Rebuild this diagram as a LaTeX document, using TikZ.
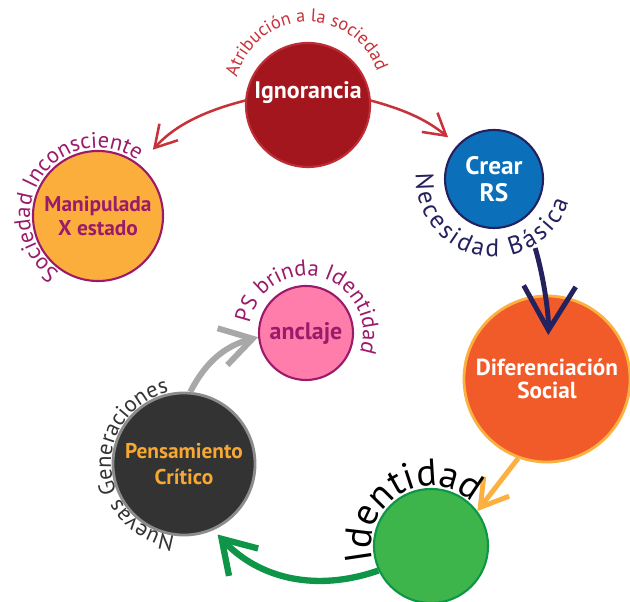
\documentclass[tikz,border=0pt]{standalone}
\usepackage{fontspec}
\setmainfont{PT Sans}
\usetikzlibrary{arrows.meta,decorations.text}

\definecolor{ignred}{HTML}{A3161D}
\definecolor{ignedge}{HTML}{BF2E36}
\definecolor{arrred}{HTML}{C8323A}
\definecolor{plum}{HTML}{9B1B6B}
\definecolor{mango}{HTML}{FBAE3C}
\definecolor{rsblue}{HTML}{0B6FBA}
\definecolor{navyink}{HTML}{24215F}
\definecolor{tangerine}{HTML}{F15A29}
\definecolor{amber}{HTML}{FBB040}
\definecolor{leaf}{HTML}{3DB54A}
\definecolor{forest}{HTML}{0F9548}
\definecolor{coal}{HTML}{333333}
\definecolor{ash}{HTML}{8C8C8C}
\definecolor{fog}{HTML}{A8A8A8}
\definecolor{gold}{HTML}{F7A833}
\definecolor{rose}{HTML}{FF7DAB}

\newcommand{\ringfont}[2]{\color{#1}\fontsize{#2}{#2}\selectfont}

\begin{document}
\begin{tikzpicture}[x=0.025cm,y=0.025cm,
  bubble/.style={circle,draw,line width=1.5pt,inner sep=0pt,align=center,
    font=\bfseries\fontsize{15}{17}\selectfont},
  barb/.style n args={3}{line width=#1,-{Straight Barb[length=#2,width=#3]}}]
  \fill[white] (0,0) rectangle (630,602);
  \useasboundingbox (0,0) rectangle (630,602);

  % circles
  \node[bubble,fill=ignred,draw=ignedge,minimum size=3.1cm] (ign) at (308,497) {};
  \node[text=white,font=\bfseries\fontsize{17}{17}\selectfont] (ignname) at (308,509) {Ignorancia};
  \node[bubble,fill=mango,draw=plum,text=plum,minimum size=3.25cm,
    font=\bfseries\fontsize{15.2}{17}\selectfont] (man) at (98,386) {Manipulada\\X estado};
  \node[bubble,fill=rsblue,draw=navyink,text=white,minimum size=2.45cm,
    font=\bfseries\fontsize{18}{19}\selectfont] (crs) at (494,423) {Crear\\RS};
  \node[bubble,fill=tangerine,draw=amber,text=white,minimum size=4.15cm,line width=2pt,
    font=\bfseries\fontsize{16.5}{16.5}\selectfont] (dif) at (547,223) {Diferenciación\\Social};
  \node[bubble,fill=leaf,draw=forest,minimum size=2.85cm] (ide) at (431,56) {};
  \node[bubble,fill=coal,draw=ash,text=gold,minimum size=3.55cm,line width=2pt,
    font=\bfseries\fontsize{15.2}{18}\selectfont] (pen) at (184,138) {Pensamiento\\Crítico};
  \node[bubble,fill=rose,draw=plum,text=plum,minimum size=2.35cm,
    font=\bfseries\fontsize{17}{17}\selectfont] (anc) at (306,269) {anclaje};

  % arrows
  \draw[arrred,barb={1.8pt}{0.53cm}{0.62cm},shorten >=0.5cm] (ign.176) to[bend right=17] (man.51);
  \draw[arrred,barb={1.8pt}{0.53cm}{0.62cm},shorten >=0.3cm] (ign.4) to[bend left=12] (crs.137);
  \draw[navyink,barb={3.5pt}{1.1cm}{1.3cm},shorten <=0.8cm,shorten >=1.1cm] (crs.-50) to[bend left=9] (dif.center);
  \draw[amber,barb={3.5pt}{0.66cm}{0.8cm}] (dif.250) -- (ide.37);
  \draw[forest,barb={4.5pt}{0.8cm}{1cm},shorten >=0.15cm] (ide.205) to[bend left=33] (pen.-66);
  \draw[fog,barb={4.2pt}{0.78cm}{0.95cm}] (pen.85) to[bend left=24] (anc.185);

  % text round the circles
  \path[decorate,decoration={text along path,text align=center,
    text={|\ringfont{arrred}{13}|Atribución a la sociedad}}]
    (ign.center) ++(0,10) ++(175:73) arc[start angle=175,end angle=10,radius=73];
  \path[decorate,decoration={text along path,text align=center,
    text={|\ringfont{plum}{16}|Sociedad Inconsciente}}]
    (man.center) ++(240:68) arc[start angle=240,end angle=50,radius=68];
  \path[decorate,decoration={text along path,text align=fit to path,
    text={|\ringfont{navyink}{18}|Necesidad Básica}}]
    (crs.center) ++(176:78) arc[start angle=176,end angle=343,radius=78];
  \path[decorate,decoration={text along path,text align=center,
    text={|\ringfont{plum}{16}|PS brinda Identidad}}]
    (anc.center) ++(180:57) arc[start angle=180,end angle=-30,radius=57];
  \path[decorate,decoration={text along path,text align=center,
    text={|\ringfont{black}{27}|Identidad}}]
    (ide.center) ++(200:60) arc[start angle=200,end angle=40,radius=60];
  \path[decorate,decoration={text along path,text align=center,
    text={|\ringfont{coal}{16}|Nuevas Generaciones}}]
    (pen.center) ++(275:73) arc[start angle=275,end angle=90,radius=73];
\end{tikzpicture}
\end{document}
